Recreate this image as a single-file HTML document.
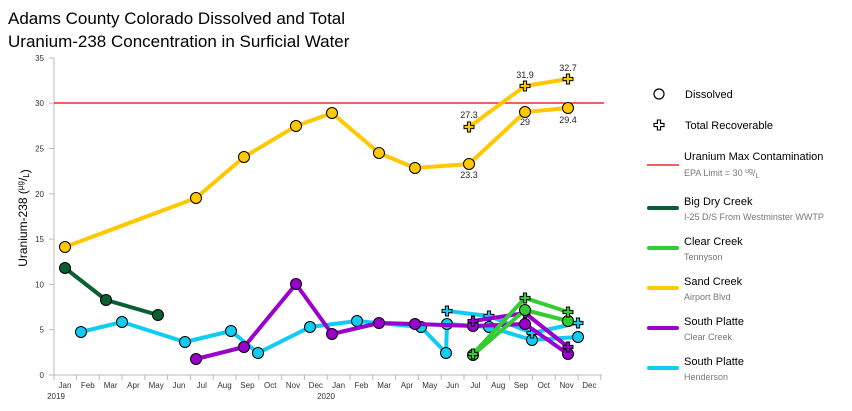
<!DOCTYPE html>
<html><head><meta charset="utf-8"><style>
body{margin:0;background:#fff;width:852px;height:411px;overflow:hidden;font-family:"Liberation Sans",Arial,sans-serif}
svg{display:block}
</style></head><body>
<svg id="s" width="852" height="411" viewBox="0 0 852 411" xmlns="http://www.w3.org/2000/svg" font-family="Liberation Sans, Arial, sans-serif">
<text x="8" y="24" font-size="17" fill="#000">Adams County Colorado Dissolved and Total</text>
<text x="8" y="47" font-size="17" fill="#000">Uranium-238 Concentration in Surficial Water</text>
<g stroke="#bbb" stroke-width="1">
<line x1="54" y1="58" x2="54" y2="375"/>
<line x1="54" y1="375" x2="602" y2="375"/>
</g>
<g id="ax" font-size="8" fill="#333"></g>
<text transform="translate(27,218) rotate(-90)" text-anchor="middle" font-size="12" fill="#000">Uranium-238 (<tspan font-size="8" dy="-4">µg</tspan><tspan dy="4">/</tspan><tspan font-size="8" dy="2">L</tspan>)</text>
<line x1="54" y1="103" x2="604" y2="103" stroke="#e00" stroke-width="1.3"/>
<g id="d"></g>
<g font-size="9" fill="#222" text-anchor="middle">
<text x="469" y="118">27.3</text><text x="525" y="78">31.9</text><text x="568" y="71">32.7</text>
<text x="525" y="125">29</text><text x="568" y="123">29.4</text><text x="469" y="178">23.3</text>
</g>
<g font-size="11" fill="#000">
<circle cx="659" cy="94" r="5" fill="none" stroke="#000" stroke-width="1.2"/>
<text x="685" y="98">Dissolved</text>
<path id="lp" fill="none" stroke="#000" stroke-width="1.1"/>
<text x="685" y="129">Total Recoverable</text>
<line x1="647" y1="165" x2="679" y2="165" stroke="#e00" stroke-width="1.3"/>
<text x="684" y="160">Uranium Max Contamination</text>
<text x="684" y="176" font-size="9" fill="#777">EPA Limit = 30 <tspan font-size="7" dy="-3">ug</tspan><tspan dy="3">/</tspan><tspan font-size="7" dy="2">L</tspan></text>
<line x1="649" y1="208" x2="677" y2="208" stroke="#0b5e32" stroke-width="4" stroke-linecap="round"/>
<text x="684" y="205">Big Dry Creek</text><text x="684" y="220" font-size="9" fill="#777">I-25 D/S From Westminster WWTP</text>
<line x1="649" y1="248" x2="677" y2="248" stroke="#33cc33" stroke-width="4" stroke-linecap="round"/>
<text x="684" y="245">Clear Creek</text><text x="684" y="260" font-size="9" fill="#777">Tennyson</text>
<line x1="649" y1="288" x2="677" y2="288" stroke="#ffc800" stroke-width="4" stroke-linecap="round"/>
<text x="684" y="285">Sand Creek</text><text x="684" y="300" font-size="9" fill="#777">Airport Blvd</text>
<line x1="649" y1="328" x2="677" y2="328" stroke="#9900cc" stroke-width="4" stroke-linecap="round"/>
<text x="684" y="325">South Platte</text><text x="684" y="340" font-size="9" fill="#777">Clear Creek</text>
<line x1="649" y1="368" x2="677" y2="368" stroke="#11ccf2" stroke-width="4" stroke-linecap="round"/>
<text x="684" y="365">South Platte</text><text x="684" y="380" font-size="9" fill="#777">Henderson</text>
</g>
</svg>
<script>
var NS="http://www.w3.org/2000/svg";
function el(t,a,p){var e=document.createElementNS(NS,t);for(var k in a)e.setAttribute(k,a[k]);(p||document.getElementById('d')).appendChild(e);return e;}
var ax=document.getElementById('ax');
for(var i=0;i<=7;i++){var y=375-i*45.3;el('line',{x1:49,x2:54,y1:y,y2:y,stroke:'#bbb'},ax);var t=el('text',{x:44,y:y+3,'text-anchor':'end'},ax);t.textContent=i*5;}
var m=['Jan','Feb','Mar','Apr','May','Jun','Jul','Aug','Sep','Oct','Nov','Dec'];
for(var i=0;i<24;i++){var x=65+i*22.8;el('line',{x1:x+11.4,x2:x+11.4,y1:375,y2:380,stroke:'#bbb'},ax);var t=el('text',{x:x,y:388,'text-anchor':'middle'},ax);t.textContent=m[i%12];}
el('line',{x1:54,x2:54,y1:375,y2:380,stroke:'#bbb'},ax);
var t=el('text',{x:56,y:399,'text-anchor':'middle'},ax);t.textContent='2019';
t=el('text',{x:326,y:399,'text-anchor':'middle'},ax);t.textContent='2020';
function plus(x,y){var a=1.6,b=5;return 'M'+(x-a)+' '+(y-b)+'h'+2*a+'v'+(b-a)+'h'+(b-a)+'v'+2*a+'h'+(a-b)+'v'+(b-a)+'h'+(-2*a)+'v'+(a-b)+'h'+(a-b)+'v'+(-2*a)+'h'+(b-a)+'z';}
document.getElementById('lp').setAttribute('d',plus(659,125));
function ser(pts,c,mk){el('polyline',{points:pts.map(function(p){return p.join(',')}).join(' '),fill:'none',stroke:c,'stroke-width':4,'stroke-linejoin':'round'});
pts.forEach(function(p){if(mk)el('path',{d:plus(p[0],p[1]),fill:c,stroke:'#000','stroke-width':1});else el('circle',{cx:p[0],cy:p[1],r:5.5,fill:c,stroke:'#000','stroke-width':1});});}
var Y='#ffc800',G='#0b5e32',L='#33cc33',P='#9900cc',C='#11ccf2';
ser([[65,247],[196,198],[244,157],[296,126],[332,113],[379,153],[415,168],[469,164],[525,112],[568,108]],Y);
ser([[469,127],[525,86],[568,79]],Y,1);
ser([[65,268],[106,300],[158,315]],G);
ser([[81,332],[122,322],[185,342],[231,331],[258,353],[310,327],[357,321],[421,327],[446,353],[447,324],[489,327],[532,340],[578,337]],C);
ser([[447,311],[489,316],[532,333],[578,323]],C,1);
ser([[196,359],[244,347],[296,284],[332,334],[379,323],[415,324],[473,326],[525,324],[568,354]],P);
ser([[473,321],[525,313],[568,347]],P,1);
ser([[473,355],[525,310],[568,321]],L);
ser([[473,354],[525,298],[568,312]],L,1);
</script>
</body></html>
